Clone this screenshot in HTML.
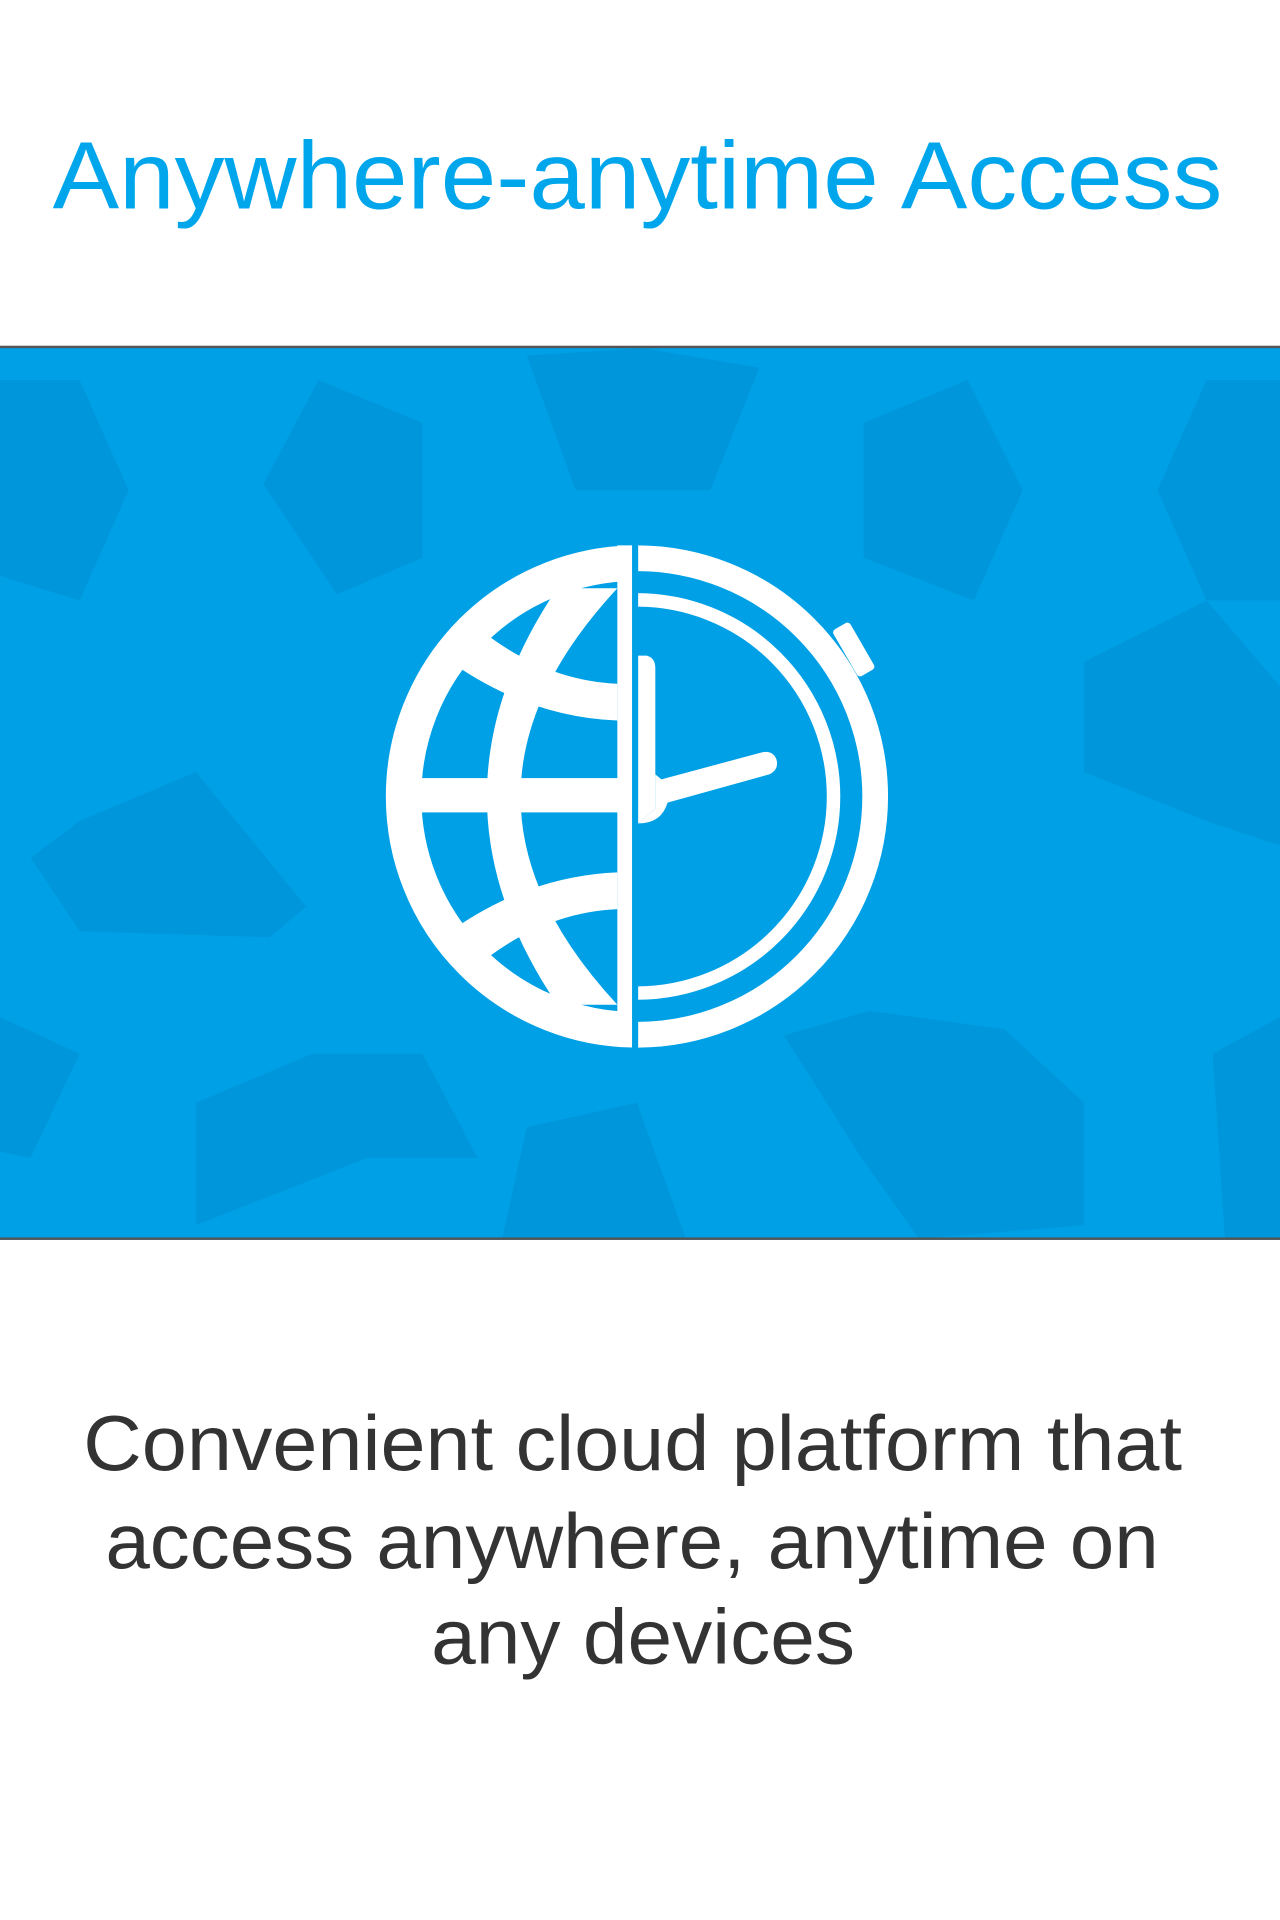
<!DOCTYPE html>
<html><head><meta charset="utf-8"><style>html,body{margin:0;padding:0;background:#fff}svg{display:block}</style></head>
<body>
<svg width="1280" height="1920" viewBox="0 0 1045 1567" xmlns="http://www.w3.org/2000/svg">
<defs>
<clipPath id="band"><rect x="0" y="284" width="1045" height="727"/></clipPath>
<clipPath id="gin"><circle cx="520" cy="650" r="182"/></clipPath>
<clipPath id="lefth"><rect x="300" y="430" width="216" height="440"/></clipPath>
<clipPath id="righth"><rect x="521" y="430" width="220" height="440"/></clipPath>
</defs>
<text x="43" y="170" font-family="Liberation Sans, sans-serif" font-size="78" fill="#00a6ec" textLength="955" lengthAdjust="spacingAndGlyphs">Anywhere-anytime Access</text>
<rect x="0" y="283" width="1045" height="729" fill="#00a0e6"/>
<g clip-path="url(#band)" fill="#0096db">
<polygon points="215,395 275,485 345,455 345,345 260,310"/>
<polygon points="430,290 470,400 580,400 620,300 525,284"/>
<polygon points="705,345 705,455 795,490 835,400 790,310"/>
<polygon points="0,310 65,310 105,400 65,490 0,470"/>
<polygon points="945,400 985,310 1045,310 1045,490 985,490"/>
<polygon points="885,540 985,490 1045,560 1045,690 985,670 885,630"/>
<polygon points="65,670 160,630 250,740 220,765 65,760 25,700"/>
<polygon points="0,830 65,860 25,945 0,940"/>
<polygon points="160,900 255,860 345,860 390,945 300,945 160,1000"/>
<polygon points="640,845 710,825 820,840 885,900 885,1000 750,1011 700,940"/>
<polygon points="990,860 1045,830 1045,1011 1000,1011"/>
<polygon points="410,1011 430,920 520,900 560,1011"/>
</g>
<rect x="0" y="282" width="1045" height="2" fill="#555"/>
<rect x="0" y="1010" width="1045" height="2" fill="#555"/>
<g fill="#fff">
<circle cx="520" cy="650" r="190.5" fill="none" stroke="#fff" stroke-width="29" clip-path="url(#lefth)"/>
<g clip-path="url(#gin)">
<path d="M455 480 Q340 650 455 820 L504 820 Q346 650 504 480 Z"/>
<path d="M365 538 Q430 585 504 588 L504 558 Q440 555 385 508 Z"/>
<path d="M365 762 Q430 715 504 712 L504 742 Q440 745 385 792 Z"/>
<rect x="330" y="635" width="180" height="28"/>
</g>
<rect x="504" y="445" width="12" height="408"/>
<g clip-path="url(#righth)">
<circle cx="520" cy="650" r="194.5" fill="none" stroke="#fff" stroke-width="21"/>
<circle cx="520" cy="650" r="160.5" fill="none" stroke="#fff" stroke-width="11"/>
</g>
<rect x="-8" y="-22" width="16" height="44" rx="3" transform="translate(697,530) rotate(-30)"/>
<path d="M521 535 L528 535 Q535 537 535 545 L535 660 L521 672 Z"/>
<path d="M521 672 Q540 672 545 655 L628 632 Q636 628 634 620 Q631 612 622 614 L540 636 L535 632 L535 660 Z"/>
</g>
<g font-family="Liberation Sans, sans-serif" font-size="64" fill="#333">
<text x="68" y="1200" textLength="897" lengthAdjust="spacingAndGlyphs">Convenient cloud platform that</text>
<text x="86" y="1280" textLength="860" lengthAdjust="spacingAndGlyphs">access anywhere, anytime on</text>
<text x="352" y="1358" textLength="346" lengthAdjust="spacingAndGlyphs">any devices</text>
</g>
</svg>
</body></html>
